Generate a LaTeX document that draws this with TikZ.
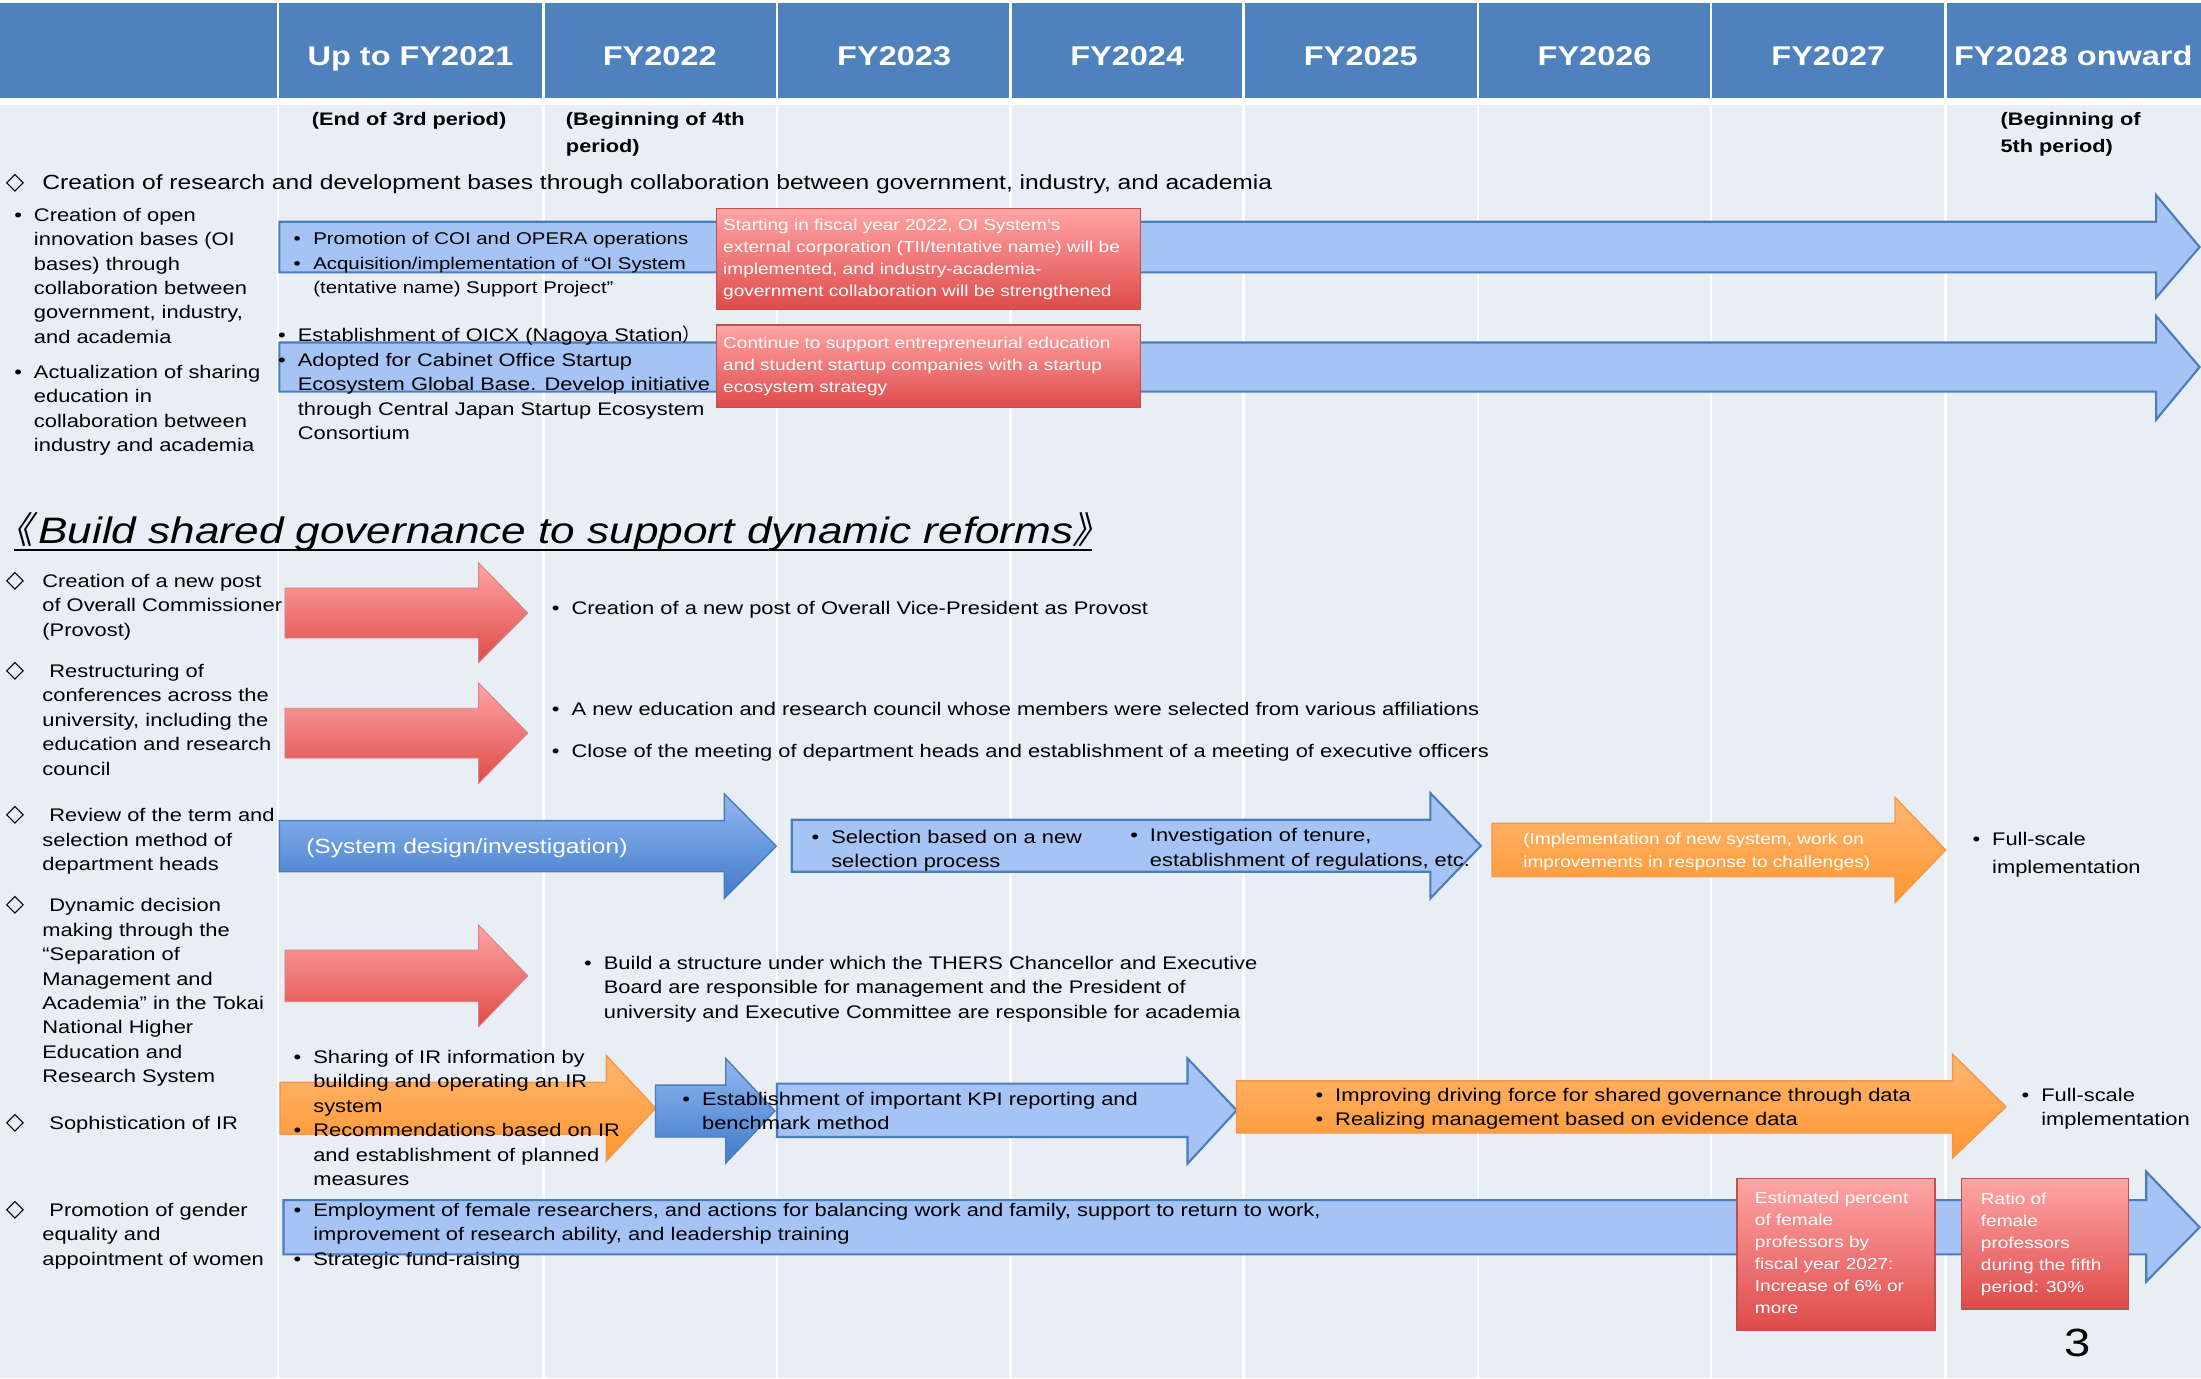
\documentclass[tikz,border=0pt]{standalone}
\usepackage{fontspec}
\setmainfont[FakeStretch=1.2]{Liberation Sans}
\newfontfamily\cjkfont{Noto Sans CJK SC}
\newfontfamily\cjktitle[RawFeature=+palt,FakeSlant=0.2]{Noto Sans CJK SC}
\newfontfamily\symfont{DejaVu Sans}
\usepackage{tikz}
\usetikzlibrary{positioning}

\definecolor{headblue}{HTML}{4F81BD}
\definecolor{cellgrey}{HTML}{E9EDF4}
\definecolor{paleblue}{HTML}{A5C3F5}
\definecolor{edgeblue}{HTML}{4A7EBB}
\definecolor{deeptop}{HTML}{92B7F0}
\definecolor{deepbot}{HTML}{3F7BCB}
\definecolor{redtop}{HTML}{FFA5A5}
\definecolor{redbot}{HTML}{DE4B4A}
\definecolor{rededge}{HTML}{C0504D}
\definecolor{orangetop}{HTML}{FFB772}
\definecolor{orangebot}{HTML}{FF962F}
\definecolor{orangeedge}{HTML}{F79646}

\tikzstyle{colline}=[white, line width=1.8pt]
\tikzstyle{yearhead}=[text=white, anchor=base, inner sep=0pt, font=\fontsize{19.3}{22}\selectfont\bfseries]
\tikzstyle{period}=[anchor=north west, inner sep=0pt, font=\fontsize{12.9}{19}\selectfont\bfseries]
\tikzstyle{body}=[anchor=north west, inner sep=0pt, font=\fontsize{13}{17.4}\selectfont]
\tikzstyle{note}=[anchor=north west, inner sep=0pt, font=\fontsize{12.1}{17.5}\selectfont]
\tikzstyle{redbox}=[draw=rededge, line width=1pt, top color=redtop, bottom color=redbot, anchor=north west, inner sep=0pt]
\tikzstyle{boxtext}=[anchor=west, inner sep=0pt, text=white, font=\fontsize{11.3}{15.7}\selectfont]
\tikzstyle{palearrow}=[draw=edgeblue, line width=1.5pt, fill=paleblue]
\tikzstyle{deeparrow}=[draw=edgeblue, line width=1pt, top color=deeptop, bottom color=deepbot]
\tikzstyle{redarrow}=[draw=rededge!70, line width=0.6pt, top color=redtop, bottom color=redbot]
\tikzstyle{orangearrow}=[draw=orangeedge, line width=1pt, top color=orangetop, bottom color=orangebot]

% block arrow: style, left, body top, body bottom, head base, tip, head top, head bottom
\newcommand{\blockarrow}[8]{\path[#1] (#2,#3) -- (#5,#3) -- (#5,#7) -- (#6,{(#3+#4)/2}) -- (#5,#8) -- (#5,#4) -- (#2,#4) -- cycle;}
\newcommand{\bul}[1]{\begin{tabular}{@{}p{14pt}@{}l@{}}#1\end{tabular}}
\newcommand{\dia}[1]{\begin{tabular}{@{}p{26pt}@{}l@{}}#1\end{tabular}}
\newcommand{\lines}[1]{\begin{tabular}{@{}l@{}}#1\end{tabular}}
\newcommand{\dm}{\smash{\symfont\fontsize{17}{17}\selectfont ◇}}

\begin{document}
\begin{tikzpicture}[x=1pt, y=-1pt]
		\useasboundingbox (0,0) rectangle (1568,982);
		% First we draw the table
		\fill[white] (0,0) rectangle (1568,982);
		\fill[headblue] (0,2) rectangle (1568,70);
		\fill[cellgrey] (0,75) rectangle (1568,982);
		\foreach \x in {198,387,553.5,720,886,1053,1219,1386}
		\draw[colline] (\x,2) -- (\x,982);
		
		\foreach \x/\nm/\yr in {
			292.5/hA/Up to FY2021, 470/hB/FY2022, 637/hC/FY2023, 803/hD/FY2024,
			969.5/hE/FY2025, 1136/hF/FY2026, 1302.5/hG/FY2027, 1477/hH/FY2028 onward}
		\node[yearhead] (\nm) at (\x,46.8) {\yr};
		
		\node[period] (p3) at (222,76) {\lines{(End of 3rd period)}};
		\node[period] (p4) at (403,76) {\lines{(Beginning of 4th\\period)}};
		\node[period] (p5) at (1425,76) {\lines{(Beginning of\\5th period)}};
		
		% Collaboration rows
		\node[body, font=\fontsize{14.6}{17.4}\selectfont] (oi) at (4,122.6) {\dia{\dm & Creation of research and development bases through collaboration between government, industry, and academia}};
		\node[body] (oiA) at (10,145.2) {\bul{•& Creation of open\\ & innovation bases (OI\\ & bases) through\\ & collaboration between\\ & government, industry,\\ & and academia}};
		\node[body] (oiB) at (10,257.2) {\bul{•& Actualization of sharing\\ & education in\\ & collaboration between\\ & industry and academia}};
		
		\blockarrow{palearrow}{199}{158}{194}{1536}{1567}{139}{212}
		\blockarrow{palearrow}{199}{244}{279}{1536}{1567}{225}{299}
		
		\node[note] (coi) at (209,161.8) {\bul{•& Promotion of COI and OPERA operations\\ •& Acquisition/implementation of “OI System\\ & (tentative name) Support Project”}};
		\node[body] (oicx) at (198,231.2) {\bul{•& Establishment of OICX (Nagoya Station{\cjkfont ）}\\ •& Adopted for Cabinet Office Startup\\ & Ecosystem Global Base. Develop initiative\\ & through Central Japan Startup Ecosystem\\ & Consortium}};
		
		\node[redbox, minimum width=302, minimum height=72] (r1) at (510,148) {};
		\node[boxtext] (r1t) at ([xshift=5]r1.west) {\lines{Starting in fiscal year 2022, OI System’s\\external corporation (TII/tentative name) will be\\implemented, and industry-academia-\\government collaboration will be strengthened}};
		\node[redbox, minimum width=302, minimum height=59] (r2) at (510,231) {};
		\node[boxtext] (r2t) at ([xshift=5]r2.west) {\lines{Continue to support entrepreneurial education\\and student startup companies with a startup\\ecosystem strategy}};
		
		% Governance rows
		\node[anchor=base west, inner sep=0pt, font=\fontsize{26.2}{30}\selectfont\itshape] (title) at (10,387) {{\cjktitle 《}\hspace{4pt}Build shared governance to support dynamic reforms{\cjktitle 》}};
		\draw[line width=1.6pt] ([yshift=-5]title.base west) -- ([yshift=-5]title.base east);
		
		\node[body] (gA) at (4,406.2) {\dia{\dm & Creation of a new post\\ & of Overall Commissioner\\ & (Provost)}};
		\node[body] (gB) at (4,470.2) {\dia{\dm & \hspace{5pt}Restructuring of\\ & conferences across the\\ & university, including the\\ & education and research\\ & council}};
		\node[body] (gC) at (4,573.2) {\dia{\dm & \hspace{5pt}Review of the term and\\ & selection method of\\ & department heads}};
		\node[body] (gD) at (4,637.2) {\dia{\dm & \hspace{5pt}Dynamic decision\\ & making through the\\ & “Separation of\\ & Management and\\ & Academia” in the Tokai\\ & National Higher\\ & Education and\\ & Research System}};
		\node[body] (gE) at (4,792.2) {\dia{\dm & \hspace{5pt}Sophistication of IR}};
		\node[body] (gF) at (4,854.2) {\dia{\dm & \hspace{5pt}Promotion of gender\\ & equality and\\ & appointment of women}};
		
		\blockarrow{redarrow}{203}{419}{454.5}{341}{376}{401}{472}
		\blockarrow{redarrow}{203}{504.6}{540}{341}{376}{486.6}{558}
		\blockarrow{deeparrow}{199}{584.6}{621}{516}{553}{565.6}{640}
		\blockarrow{palearrow}{564}{584}{621}{1019}{1055}{565}{640}
		\blockarrow{orangearrow}{1063}{586.5}{624.6}{1350}{1386}{568}{643}
		\blockarrow{redarrow}{203}{676.8}{713.6}{341}{376}{659}{731.4}
		\blockarrow{orangearrow}{199.6}{771}{808}{432}{467}{752}{827}
		\blockarrow{deeparrow}{467}{773}{810}{517}{552}{754}{828.6}
		\blockarrow{palearrow}{553.5}{772}{810}{846}{881}{754}{829}
		\blockarrow{orangearrow}{881}{770}{807}{1391}{1429}{751}{825}
		\blockarrow{palearrow}{202}{855}{893.6}{1529}{1567}{834.7}{913}
		
		\node[body] (prov) at (393,425.2) {\bul{•& Creation of a new post of Overall Vice-President as Provost}};
		\node[body] (cncl) at (393,497.2) {\bul{•& A new education and research council whose members were selected from various affiliations}};
		\node[body] (meet) at (393,527.2) {\bul{•& Close of the meeting of department heads and establishment of a meeting of executive officers}};
		\node[body, text=white, font=\fontsize{14.6}{17.4}\selectfont] (sysd) at (218,595.6) {\lines{(System design/investigation)}};
		\node[body] (sel) at (578,588.2) {\bul{•& Selection based on a new\\ & selection process}};
		\node[body] (ten) at (805,587.2) {\bul{•& Investigation of tenure,\\ & establishment of regulations, etc.}};
		\node[body, text=white, font=\fontsize{11.3}{16}\selectfont] (impl) at (1085,590.5) {\lines{(Implementation of new system, work on\\improvements in response to challenges)}};
		\node[body, font=\fontsize{13}{20}\selectfont] (fullA) at (1405,588.3) {\bul{•& Full-scale\\ & implementation}};
		\node[body] (thers) at (416,678.2) {\bul{•& Build a structure under which the THERS Chancellor and Executive\\ & Board are responsible for management and the President of\\ & university and Executive Committee are responsible for academia}};
		\node[body] (ir) at (209,745.2) {\bul{•& Sharing of IR information by\\ & building and operating an IR\\ & system\\ •& Recommendations based on IR\\ & and establishment of planned\\ & measures}};
		\node[body] (kpi) at (486,775.2) {\bul{•& Establishment of important KPI reporting and\\ & benchmark method}};
		\node[body] (data) at (937,772.2) {\bul{•& Improving driving force for shared governance through data\\ •& Realizing management based on evidence data}};
		\node[body] (fullB) at (1440,772.2) {\bul{•& Full-scale\\ & implementation}};
		\node[body] (fem) at (209,854.2) {\bul{•& Employment of female researchers, and actions for balancing work and family, support to return to work,\\ & improvement of research ability, and leadership training\\ •& Strategic fund-raising}};
		
		\node[redbox, minimum width=141, minimum height=108] (r3) at (1237,839) {};
		\node[boxtext] (r3t) at ([xshift=13]r3.west) {\lines{Estimated percent\\of female\\professors by\\fiscal year 2027:\\Increase of 6\% or\\more}};
		\node[redbox, minimum width=119, minimum height=93] (r4) at (1397,839) {};
		\node[boxtext] (r4t) at ([xshift=14]r4.west) {\lines{Ratio of\\female\\professors\\during the fifth\\period: 30\%}};
		
		\node[inner sep=0pt, font=\fontsize{28}{30}\selectfont] (pg) at (1480,957) {3};
		\end{tikzpicture}
\end{document}
